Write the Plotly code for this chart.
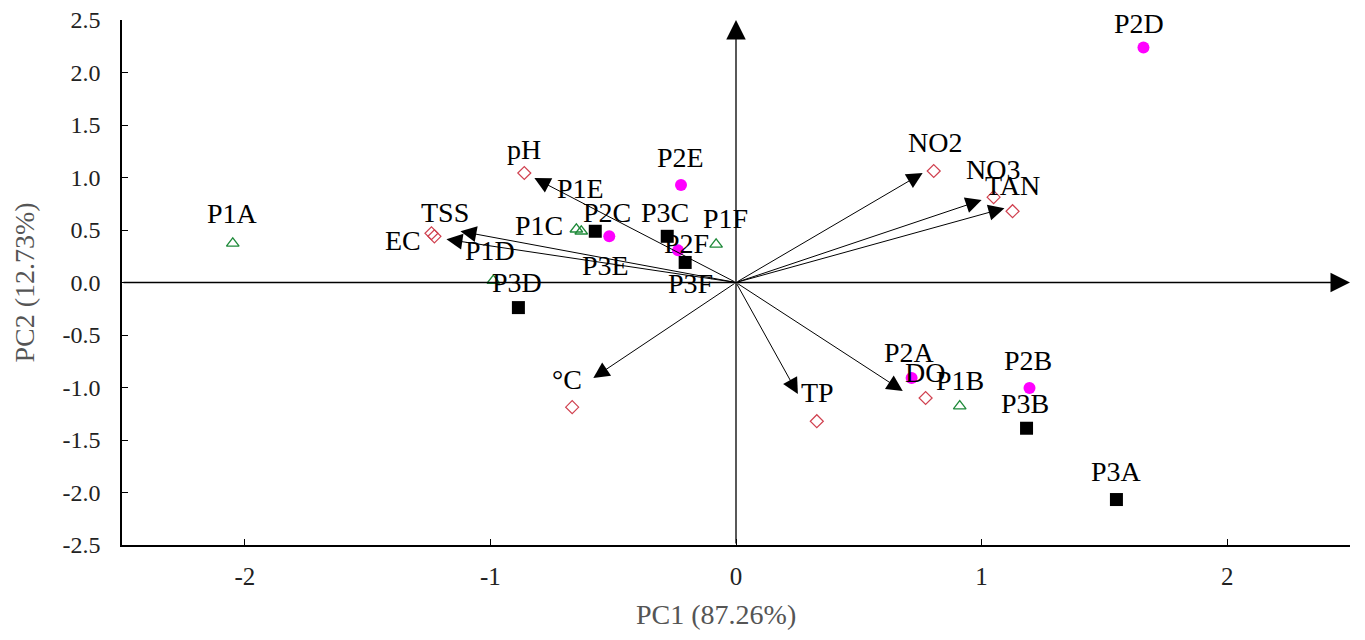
import plotly.graph_objects as go

# ---------------- data ----------------
var_names = ["pH", "TSS", "EC", "NO2", "NO3", "TAN", "°C", "TP", "DO"]
var_x = [-0.862, -1.240, -1.228, 0.805, 1.049, 1.126, -0.667, 0.329, 0.772]
var_y = [1.043, 0.469, 0.440, 1.062, 0.813, 0.679, -1.187, -1.321, -1.100]
arrow_x = [-0.821, -1.122, -1.179, 0.760, 1.000, 1.093, -0.581, 0.252, 0.679]
arrow_y = [0.995, 0.488, 0.411, 1.043, 0.785, 0.708, -0.909, -1.062, -1.033]
var_lab_x = [-0.862, -1.183, -1.354, 0.809, 1.045, 1.126, -0.687, 0.333, 0.768]
var_lab_y = [1.263, 0.670, 0.402, 1.330, 1.072, 0.928, -0.919, -1.043, -0.861]

p1_names = ["P1A", "P1B", "P1C", "P1D", "P1E", "P1F"]
p1_x = [-2.049, 0.911, -0.650, -0.988, -0.630, -0.081]
p1_y = [0.373, -1.177, 0.507, 0.019, 0.488, 0.364]
p1_lab_x = [-2.049, 0.911, -0.801, -1.000, -0.634, -0.041]
p1_lab_y = [0.660, -0.938, 0.545, 0.306, 0.900, 0.612]

p2_names = ["P2A", "P2B", "P2C", "P2D", "P2E", "P2F"]
p2_x = [0.715, 1.195, -0.516, 1.659, -0.224, -0.236]
p2_y = [-0.909, -1.005, 0.440, 2.239, 0.928, 0.306]
p2_lab_x = [0.707, 1.187, -0.524, 1.642, -0.228, -0.203]
p2_lab_y = [-0.670, -0.746, 0.670, 2.465, 1.187, 0.373]

p3_names = ["P3A", "P3B", "P3C", "P3D", "P3E", "P3F"]
p3_x = [1.549, 1.183, -0.280, -0.886, -0.573, -0.207]
p3_y = [-2.067, -1.388, 0.440, -0.239, 0.488, 0.191]
p3_lab_x = [1.549, 1.175, -0.289, -0.890, -0.533, -0.187]
p3_lab_y = [-1.799, -1.148, 0.670, 0.000, 0.163, -0.010]

x_ticks = [-2, -1, 0, 1, 2]
x_ticktext = ["-2", "-1", "0", "1", "2"]
y_ticks = [-2.5, -2.0, -1.5, -1.0, -0.5, 0.0, 0.5, 1.0, 1.5, 2.0, 2.5]
y_ticktext = ["-2.5", "-2.0", "-1.5", "-1.0", "-0.5", "0.0", "0.5", "1.0", "1.5", "2.0", "2.5"]
axis_range = [-2.5, 2.5]
x_title = "PC1 (87.26%)"
y_title = "PC2 (12.73%)"

FONT = "Liberation Serif"
LAB_SIZE = 28

fig = go.Figure()

fig.add_trace(go.Scatter(x=var_x, y=var_y, mode="markers", name="variables",
                         marker=dict(symbol="diamond-open", size=10, color="#d0404f",
                                     line=dict(width=1.2, color="#d0404f")),
                         cliponaxis=False))
fig.add_trace(go.Scatter(x=p1_x, y=p1_y, mode="markers", name="P1",
                         marker=dict(symbol="triangle-up-open", size=11, color="#1f8a3a",
                                     line=dict(width=1.3, color="#1f8a3a")),
                         cliponaxis=False))
fig.add_trace(go.Scatter(x=p2_x, y=p2_y, mode="markers", name="P2",
                         marker=dict(symbol="circle", size=12, color="#ff00ff"),
                         cliponaxis=False))
fig.add_trace(go.Scatter(x=p3_x, y=p3_y, mode="markers", name="P3",
                         marker=dict(symbol="square", size=13, color="#000000"),
                         cliponaxis=False))

annotations = []
# axis arrows through the origin
annotations.append(dict(x=axis_range[1], y=0, ax=axis_range[0], ay=0, xref="x", yref="y",
                        axref="x", ayref="y", text="", showarrow=True, arrowhead=2,
                        arrowsize=3.0, arrowwidth=1.3, arrowcolor="black", standoff=0))
annotations.append(dict(x=0, y=axis_range[1], ax=0, ay=axis_range[0], xref="x", yref="y",
                        axref="x", ayref="y", text="", showarrow=True, arrowhead=2,
                        arrowsize=3.0, arrowwidth=1.3, arrowcolor="black", standoff=0))
# variable vectors
for ax_, ay_ in zip(arrow_x, arrow_y):
    annotations.append(dict(x=ax_, y=ay_, ax=0, ay=0, xref="x", yref="y", axref="x", ayref="y",
                            text="", showarrow=True, arrowhead=2, arrowsize=3.2,
                            arrowwidth=1, arrowcolor="black", standoff=0))
# labels
for names, lx, ly in [(var_names, var_lab_x, var_lab_y), (p1_names, p1_lab_x, p1_lab_y),
                      (p2_names, p2_lab_x, p2_lab_y), (p3_names, p3_lab_x, p3_lab_y)]:
    for n, x_, y_ in zip(names, lx, ly):
        annotations.append(dict(x=x_, y=y_, xref="x", yref="y", text=n, showarrow=False,
                                xanchor="center", yanchor="middle",
                                font=dict(family=FONT, size=LAB_SIZE, color="black")))
# x axis title (slightly left of centre, as in the original)
annotations.append(dict(x=0.484, y=-0.133, xref="paper", yref="paper", text=x_title,
                        showarrow=False, xanchor="center", yanchor="middle",
                        font=dict(family=FONT, size=28, color="#555")))

fig.update_layout(
    width=1349, height=624,
    margin=dict(l=114, r=7, t=12, b=87),
    plot_bgcolor="white", paper_bgcolor="white",
    showlegend=False,
    annotations=annotations,
    font=dict(family=FONT),
)
fig.update_xaxes(range=axis_range, tickvals=x_ticks, ticktext=x_ticktext, automargin=False,
                 showline=True, linecolor="black", linewidth=1.5, ticks="inside", ticklen=6,
                 tickcolor="black", showgrid=False, zeroline=False,
                 tickfont=dict(family=FONT, size=25, color="#222"), ticklabelstandoff=8,
                 ticklabeloverflow="allow")
fig.update_yaxes(range=axis_range, tickvals=y_ticks, ticktext=y_ticktext, automargin=False,
                 showline=True, linecolor="black", linewidth=1.5, ticks="inside", ticklen=6,
                 tickcolor="black", showgrid=False, zeroline=False,
                 tickfont=dict(family=FONT, size=24, color="#222"), ticklabelstandoff=15,
                 ticklabeloverflow="allow",
                 title=dict(text=y_title, font=dict(family=FONT, size=28, color="#555"),
                            standoff=20))

fig.write_html("out.html")
